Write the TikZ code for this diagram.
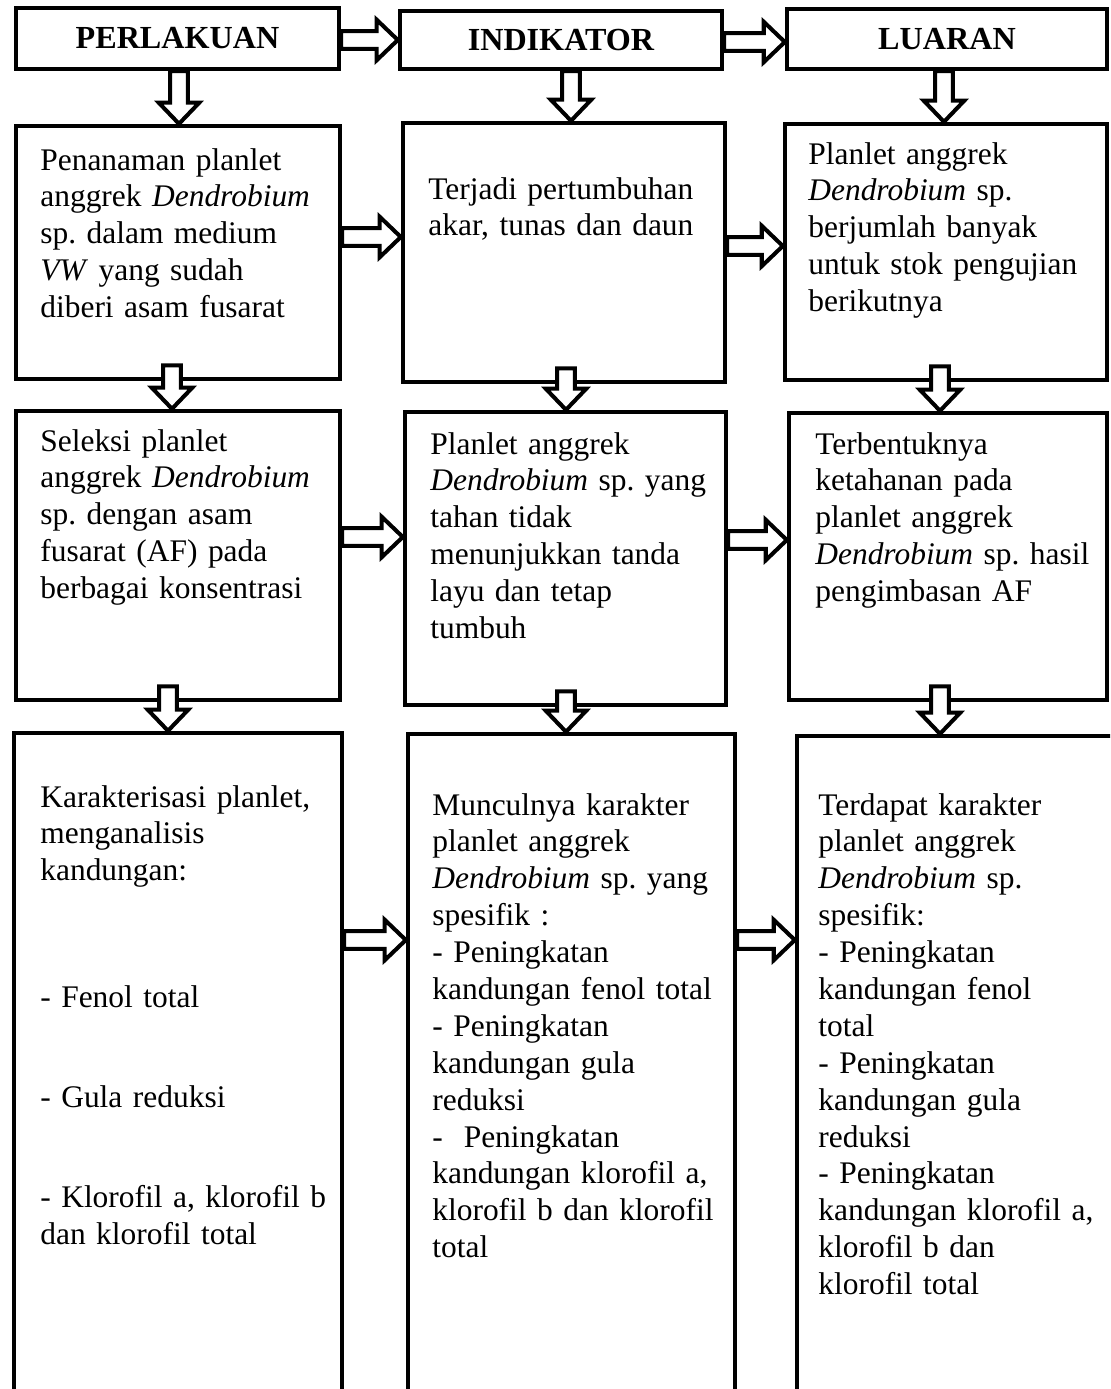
\documentclass[tikz,border=0pt]{standalone}
\usepackage{fontspec}
\setmainfont{Liberation Serif}
\usetikzlibrary{calc}
\newcommand\pu{0.02cm}
\tikzset{
	box/.style={draw, line width=2.5pt, rectangle, inner sep=0pt},
	headbox/.style={box, font=\fontsize{18.3}{21}\selectfont\bfseries},
	txt/.style={anchor=base west, inner sep=0pt, text width=6.4cm, align=left,
		font=\fontsize{17.9}{21}\selectfont},
	fat/.style={draw, line width=2.3pt, fill=white, line join=miter,
		to path={
			($(\tikztostart)!-#1!(\tikztotarget)$) coordinate (fatS)
			($(\tikztotarget)!12pt!(fatS)$) coordinate (fatB)
			($(fatS)!5pt!90:(\tikztotarget)$)
			-- ($(fatB)!5pt!90:(\tikztotarget)$)
			-- ($(fatB)!11.5pt!90:(\tikztotarget)$)
			-- (\tikztotarget)
			-- ($(fatB)!11.5pt!-90:(\tikztotarget)$)
			-- ($(fatB)!5pt!-90:(\tikztotarget)$)
			-- ($(fatS)!5pt!-90:(\tikztotarget)$)
			-- cycle}},
	fat/.default=0pt
}
\begin{document}
\begin{tikzpicture}[x=0.02cm, y=-0.02cm]
		\useasboundingbox (0,0) rectangle (1110,1389);
		\clip (0,0) rectangle (1110,1389);
		
		% header
		\node [headbox, minimum width=323*\pu, minimum height=61*\pu] (hP) at (177.5,38.5) {PERLAKUAN};
		\node [headbox, minimum width=322*\pu, minimum height=58*\pu] (hI) at (561,40) {INDIKATOR};
		\node [headbox, minimum width=320*\pu, minimum height=60*\pu] (hL) at (947,39) {LUARAN};
		
		% boxes
		\node [box, minimum width=324*\pu, minimum height=253*\pu] (A1) at (178,252.5) {};
		\node [box, minimum width=322*\pu, minimum height=259*\pu] (B1) at (564,252.5) {};
		\node [box, minimum width=322*\pu, minimum height=256*\pu] (C1) at (946,252) {};
		\node [box, minimum width=324*\pu, minimum height=289*\pu] (A2) at (178,555.5) {};
		\node [box, minimum width=321*\pu, minimum height=293*\pu] (B2) at (565.5,558.5) {};
		\node [box, minimum width=318*\pu, minimum height=287*\pu] (C2) at (948,556.5) {};
		\node [box, minimum width=328*\pu, minimum height=687*\pu] (A3) at (178,1076.5) {};
		\node [box, minimum width=327*\pu, minimum height=686*\pu] (B3) at (571.5,1077) {};
		\node [box, minimum width=323*\pu, minimum height=684*\pu] (C3) at (958.5,1078) {};
		
		% texts
		\node [txt] (A1t) at (40,170) {Penanaman planlet\\ anggrek \textit{Dendrobium}\\ sp.\ dalam medium\\ \textit{VW} yang sudah\\ diberi asam fusarat};
		\node [txt] (B1t) at (428,199) {Terjadi pertumbuhan\\ akar, tunas dan daun};
		\node [txt] (C1t) at (808,164) {Planlet anggrek\\ \textit{Dendrobium} sp.\\ berjumlah banyak\\ untuk stok pengujian\\ berikutnya};
		\node [txt] (A2t) at (40,451) {Seleksi planlet\\ anggrek \textit{Dendrobium}\\ sp.\ dengan asam\\ fusarat (AF) pada\\ berbagai konsentrasi};
		\node [txt] (B2t) at (430,454) {Planlet anggrek\\ \textit{Dendrobium} sp.\ yang\\ tahan tidak\\ menunjukkan tanda\\ layu dan tetap\\ tumbuh};
		\node [txt] (C2t) at (815,454) {Terbentuknya\\ ketahanan pada\\ planlet anggrek\\ \textit{Dendrobium} sp.\ hasil\\ pengimbasan AF};
		\node [txt] (A3t) at (40,807) {Karakterisasi planlet,\\ menganalisis\\ kandungan:\\[51pt] - Fenol total\\[36pt] - Gula reduksi\\[36pt] - Klorofil a, klorofil b\\ dan klorofil total};
		\node [txt] (B3t) at (432,815) {Munculnya karakter\\ planlet anggrek\\ \textit{Dendrobium} sp.\ yang\\ spesifik :\\ - Peningkatan\\ kandungan fenol total\\ - Peningkatan\\ kandungan gula\\ reduksi\\ -\ \ Peningkatan\\ kandungan klorofil a,\\ klorofil b dan klorofil\\ total};
		\node [txt] (C3t) at (818,815) {Terdapat karakter\\ planlet anggrek\\ \textit{Dendrobium} sp.\\ spesifik:\\ - Peningkatan\\ kandungan fenol\\ total\\ - Peningkatan\\ kandungan gula\\ reduksi\\ - Peningkatan\\ kandungan klorofil a,\\ klorofil b dan\\ klorofil total};
		
		% arrows across
		\draw [fat] (hP.east |- 0,40) to (hI.west |- 0,40);
		\draw [fat] (hI.east |- 0,42) to (hL.west |- 0,42);
		\draw [fat] (A1.east |- 0,237) to (B1.west |- 0,237);
		\draw [fat] (B1.east |- 0,246) to (C1.west |- 0,246);
		\draw [fat] (A2.east |- 0,537) to (B2.west |- 0,537);
		\draw [fat] (B2.east |- 0,540) to (C2.west |- 0,540);
		\draw [fat] (A3.east |- 0,940) to (B3.west |- 0,940);
		\draw [fat] (B3.east |- 0,940) to (C3.west |- 0,940);
		
		% arrows down
		\draw [fat] (hP.south -| 179,0) to (A1.north -| 179,0);
		\draw [fat] (hI.south -| 571,0) to (B1.north -| 571,0);
		\draw [fat] (hL.south -| 944,0) to (C1.north -| 944,0);
		\draw [fat=9pt] (A1.south -| 172,0) to (A2.north -| 172,0);
		\draw [fat=9pt] (B1.south -| 566,0) to (B2.north -| 566,0);
		\draw [fat=9pt] (C1.south -| 940,0) to (C2.north -| 940,0);
		\draw [fat=9pt] (A2.south -| 168,0) to (A3.north -| 168,0);
		\draw [fat=9pt] (B2.south -| 566,0) to (B3.north -| 566,0);
		\draw [fat=9pt] (C2.south -| 940,0) to (C3.north -| 940,0);
\end{tikzpicture}
\end{document}
